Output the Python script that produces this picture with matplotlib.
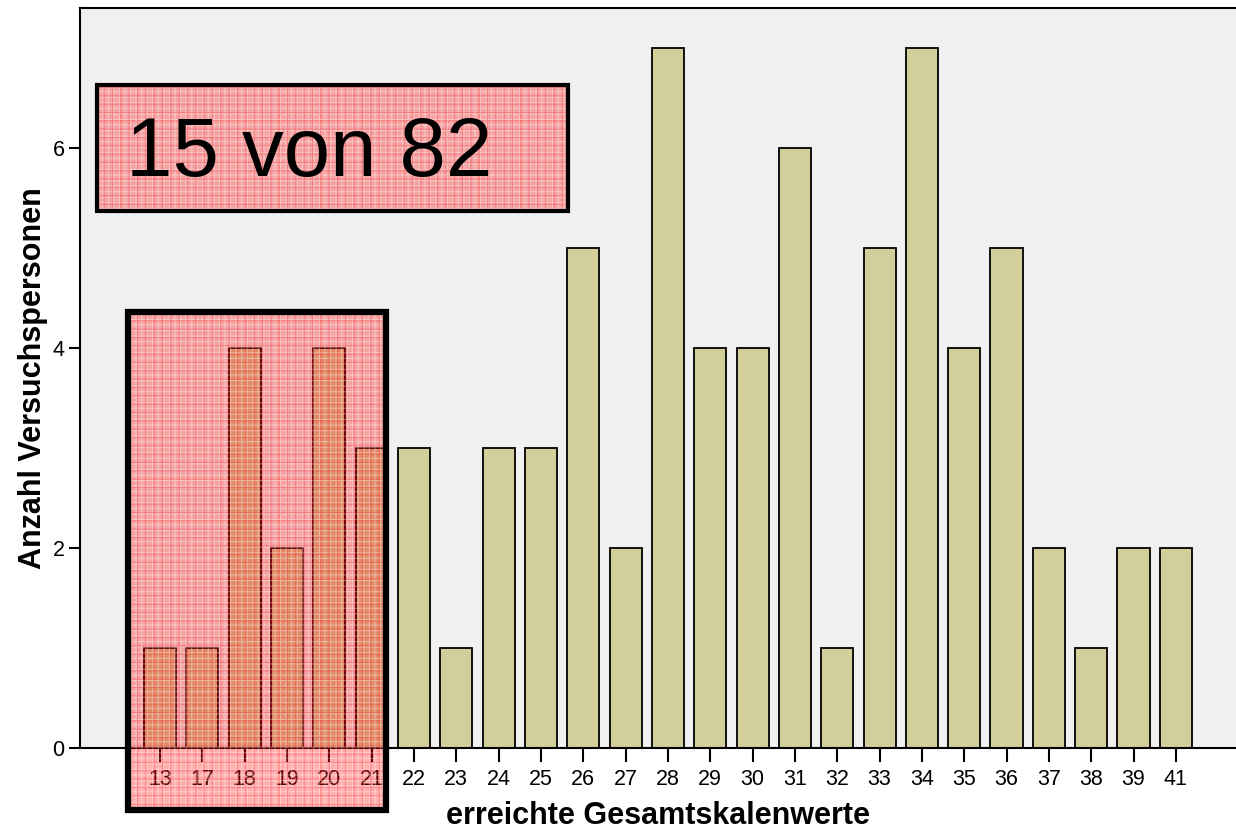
import matplotlib
matplotlib.use("Agg")
import matplotlib.pyplot as plt
from matplotlib.patches import Rectangle

plt.rcParams['font.family'] = ['Liberation Sans', 'DejaVu Sans']
plt.rcParams['hatch.linewidth'] = 0.8

# Scale scores and number of participants per score
scores = ["13", "17", "18", "19", "20", "21", "22", "23", "24", "25", "26", "27", "28",
          "29", "30", "31", "32", "33", "34", "35", "36", "37", "38", "39", "41"]
counts = [1, 1, 4, 2, 4, 3, 3, 1, 3, 3, 5, 2, 7, 4, 4, 6, 1, 5, 7, 4, 5, 2, 1, 2, 2]
y_ticks = [0, 2, 4, 6]
highlight_n = 6          # number of lowest scores that are marked
total = sum(counts)
marked = sum(counts[:highlight_n])

W, H = 1236, 832
fig = plt.figure(figsize=(W / 100, H / 100), dpi=100)
fig.patch.set_facecolor("white")
ax = fig.add_axes([80 / W, (H - 748) / H, (W - 80) / W, (748 - 8) / H])
ax.set_facecolor("#f0f0f0")

x = list(range(len(scores)))
ax.bar(x, counts, width=0.76, color="#d3cf9b", edgecolor="black", linewidth=1.3, zorder=2)

ax.set_xlim(-1.89, 25.42)
ax.set_ylim(0, 7.4)
ax.set_xticks(x)
ax.set_xticklabels(scores, fontsize=15.5)
ax.set_yticks(y_ticks)
ax.set_yticklabels([str(v) for v in y_ticks], fontsize=15.5)
ax.tick_params(axis="x", direction="out", length=10, width=1.5, pad=5)
ax.tick_params(axis="y", direction="out", length=8, width=1.5, pad=3)

ax.spines["right"].set_visible(False)
for side in ("left", "top", "bottom"):
    ax.spines[side].set_linewidth(1.5)
ax.spines["bottom"].set_zorder(3)

ax.set_xlabel("erreichte Gesamtskalenwerte", fontsize=22, fontweight="bold", labelpad=8)
ax.set_ylabel("Anzahl Versuchspersonen", fontsize=22, fontweight="bold", labelpad=3)

# Translucent red marker boxes (placed in figure pixel coordinates)
def px_box(x0, y0, x1, y1, lw):
    tr = fig.transFigure
    rect = (x0 / W, 1 - y1 / H)
    w, h = (x1 - x0) / W, (y1 - y0) / H
    fig.add_artist(Rectangle(rect, w, h, transform=tr, facecolor=(1, 0, 0, 0.32),
                             edgecolor="none", linewidth=0, zorder=5))
    fig.add_artist(Rectangle(rect, w, h, transform=tr, facecolor="none",
                             edgecolor=(1, 1, 1, 0.35), hatch="+++", linewidth=0, zorder=5))
    fig.add_artist(Rectangle(rect, w, h, transform=tr, facecolor="none",
                             edgecolor=(1, 0, 0, 0.25), hatch="++", linewidth=0, zorder=5))
    fig.add_artist(Rectangle(rect, w, h, transform=tr, facecolor="none",
                             edgecolor="black", linewidth=lw, zorder=6))

px_box(128, 312, 386, 810, 4.5)
px_box(97, 85, 568, 211, 3)

fig.text(126 / W, 1 - 154 / H, f"{marked} von {total}", fontsize=60,
         va="center", ha="left", zorder=7)

fig.savefig("out.png", dpi=100)
